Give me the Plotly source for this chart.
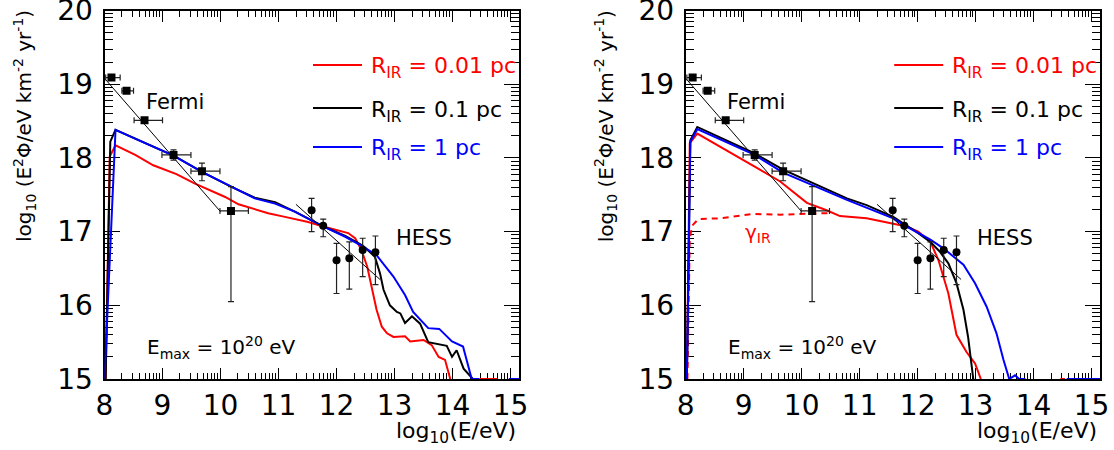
import numpy as np
import plotly.graph_objects as go

W, H = 1114, 450

# ---------------- data ----------------
fermi_x = [8.12, 8.38, 8.69, 9.19, 9.68, 10.18]
fermi_y = [19.09, 18.91, 18.51, 18.04, 17.82, 17.28]
fermi_xlo = [8.02, 8.30, 8.51, 8.99, 9.49, 9.99]
fermi_xhi = [8.27, 8.50, 9.00, 9.49, 9.99, 10.48]
fermi_ylo = [19.09, 18.91, 18.51, 17.97, 17.69, 16.05]
fermi_yhi = [19.09, 18.91, 18.51, 18.11, 17.93, 17.61]

hess_x = [11.57, 11.77, 12.00, 12.22, 12.45, 12.67]
hess_y = [17.29, 17.08, 16.61, 16.64, 16.75, 16.72]
hess_ylo = [17.00, 16.93, 16.16, 16.22, 16.39, 16.28]
hess_yhi = [17.45, 17.17, 16.84, 16.86, 16.91, 16.94]

fermi_fit_x = [8.0, 10.0]
fermi_fit_y = [19.08, 17.27]
hess_fit_x = [11.3, 12.75]
hess_fit_y = [17.37, 16.35]

# left panel curves
L_red_x = [8.02, 8.09, 8.19, 8.53, 8.84, 9.07, 9.24, 9.56, 9.82, 10.08, 10.31, 10.48, 10.82, 11.11,
           11.51, 11.77, 12.0, 12.2, 12.32, 12.43, 12.53, 12.61, 12.69, 12.78, 12.87, 12.98, 13.18,
           13.27, 13.5, 13.64, 13.76, 13.87, 13.96, None, 14.46, 14.77]
L_red_y = [15.0, 18.02, 18.17, 18.04, 17.9, 17.83, 17.78, 17.65, 17.56, 17.47, 17.37, 17.33, 17.25, 17.2,
           17.13, 17.07, 17.02, 16.98, 16.91, 16.75, 16.52, 16.25, 15.94, 15.71, 15.62, 15.57, 15.58,
           15.51, 15.53, 15.46, 15.3, 15.26, 15.0, None, 15.0, 15.0]
L_blk_x = [8.02, 8.1, 8.19, 8.7, 9.19, 9.68, 10.18, 10.59, 10.94, 11.28, 11.77, 12.15, 12.45, 12.55,
           12.66, 12.75, 12.81, 12.92, 13.04, 13.1, 13.18, 13.3, 13.44, 13.58, 13.73, 13.9, 13.99,
           14.07, 14.19, 14.35]
L_blk_y = [15.0, 18.22, 18.38, 18.2, 18.03, 17.81, 17.61, 17.46, 17.40, 17.27, 17.07, 16.94, 16.81, 16.74,
           16.66, 16.43, 16.21, 16.0, 15.91, 15.89, 15.76, 15.85, 15.75, 15.5, 15.48, 15.45, 15.3,
           15.39, 15.14, 15.0]
L_blu_x = [8.0, 8.19, 8.7, 9.19, 9.68, 10.18, 10.59, 10.94, 11.28, 11.77, 12.15, 12.45, 12.6, 12.69,
           12.98, 13.18, 13.32, 13.58, 13.77, 13.99, 14.18, 14.33, 14.46, None, 14.97, 15.15]
L_blu_y = [15.0, 18.38, 18.2, 18.03, 17.81, 17.61, 17.45, 17.38, 17.27, 17.07, 16.93, 16.8, 16.73, 16.68,
           16.39, 16.14, 15.91, 15.69, 15.68, 15.51, 15.44, 15.0, 15.0, None, 15.0, 15.0]

# right panel curves
R_red_x = [8.02, 8.07, 8.2, 8.48, 8.88, 9.28, 9.63, 9.86, 10.09, 10.43, 10.66, 11.12, 11.58, 11.81,
           12.01, 12.22, 12.36, 12.53, 12.67, 12.84, 12.99, 13.09, None, 14.46, 14.54]
R_red_y = [15.0, 18.2, 18.33, 18.2, 18.02, 17.84, 17.68, 17.54, 17.39, 17.29, 17.21, 17.18, 17.11, 17.07,
           17.0, 16.86, 16.61, 16.16, 15.6, 15.37, 15.21, 15.0, None, 15.0, 15.0]
R_blk_x = [8.02, 8.08, 8.2, 9.19, 9.68, 10.26, 10.78, 11.12, 11.58, 11.81, 12.01, 12.22, 12.38, 12.53,
           12.67, 12.79, 12.87, 12.96]
R_blk_y = [15.0, 18.24, 18.42, 18.06, 17.84, 17.63, 17.45, 17.36, 17.2, 17.08, 16.98, 16.86, 16.73, 16.57,
           16.3, 15.94, 15.57, 15.0]
R_blu_x = [8.02, 8.08, 8.2, 9.19, 9.68, 10.26, 10.78, 11.58, 11.78, 12.22, 12.45, 12.79, 12.99, 13.19,
           13.36, 13.48, 13.58, 13.68, 13.75, 13.86, None, 14.57, 15.15]
R_blu_y = [15.0, 18.22, 18.39, 18.04, 17.8, 17.61, 17.43, 17.18, 17.08, 16.89, 16.77, 16.55, 16.3, 15.98,
           15.62, 15.26, 15.0, 15.05, 15.0, 15.0, None, 15.0, 15.0]
R_gam_x = [8.03, 8.05, 8.07, 8.11, 8.22, 8.59, 9.17, 9.63, 10.09, 10.45]
R_gam_y = [15.0, 16.0, 16.9, 17.08, 17.17, 17.18, 17.24, 17.23, 17.24, 17.25]

legend_labels = ["R<sub>IR</sub> = 0.01 pc", "R<sub>IR</sub> = 0.1 pc", "R<sub>IR</sub> = 1 pc"]
legend_colors = ["#ff0000", "#000000", "#0000ff"]

x_range = [8, 15.145]
y_range = [15, 20]
x_major = list(range(8, 16))
y_major = list(range(15, 21))
x_minor = [n + np.log10(k) for n in range(8, 16) for k in range(2, 10) if n + np.log10(k) < 15.14]
y_minor = [n + np.log10(k) for n in range(15, 20) for k in range(2, 10)]

FONT = "DejaVu Sans"

def px(p):
    return p / W

def py(p):
    return 1 - p / H

fig = go.Figure()

panels = [
    ("x", "y", (L_red_x, L_red_y), (L_blk_x, L_blk_y), (L_blu_x, L_blu_y), None),
    ("x2", "y2", (R_red_x, R_red_y), (R_blk_x, R_blk_y), (R_blu_x, R_blu_y), (R_gam_x, R_gam_y)),
]

for xa, ya, red, blk, blu, gam in panels:
    if gam is not None:
        fig.add_trace(go.Scatter(x=gam[0], y=gam[1], mode="lines", xaxis=xa, yaxis=ya,
                                 line=dict(color="#ff0000", width=2, dash="6px,5px"), showlegend=False))
    for (cx, cy), col in zip([red, blk, blu], legend_colors):
        fig.add_trace(go.Scatter(x=cx, y=cy, mode="lines", xaxis=xa, yaxis=ya, connectgaps=False,
                                 line=dict(color=col, width=2), showlegend=False))
    fig.add_trace(go.Scatter(x=fermi_fit_x, y=fermi_fit_y, mode="lines", xaxis=xa, yaxis=ya,
                             line=dict(color="black", width=1), showlegend=False))
    fig.add_trace(go.Scatter(x=hess_fit_x, y=hess_fit_y, mode="lines", xaxis=xa, yaxis=ya,
                             line=dict(color="black", width=1), showlegend=False))
    fig.add_trace(go.Scatter(
        x=fermi_x, y=fermi_y, mode="markers", xaxis=xa, yaxis=ya, showlegend=False,
        marker=dict(symbol="square", size=8, color="black"),
        error_x=dict(type="data", symmetric=False,
                     array=[h - x for h, x in zip(fermi_xhi, fermi_x)],
                     arrayminus=[x - l for l, x in zip(fermi_xlo, fermi_x)],
                     color="#222222", thickness=1.2, width=3),
        error_y=dict(type="data", symmetric=False,
                     array=[h - y for h, y in zip(fermi_yhi, fermi_y)],
                     arrayminus=[y - l for l, y in zip(fermi_ylo, fermi_y)],
                     color="#222222", thickness=1.2, width=3)))
    fig.add_trace(go.Scatter(
        x=hess_x, y=hess_y, mode="markers", xaxis=xa, yaxis=ya, showlegend=False,
        marker=dict(symbol="circle", size=8, color="black"),
        error_y=dict(type="data", symmetric=False,
                     array=[h - y for h, y in zip(hess_yhi, hess_y)],
                     arrayminus=[y - l for l, y in zip(hess_ylo, hess_y)],
                     color="#222222", thickness=1.2, width=3)))

xdoms = [[104.5 / W, 519 / W], [685.7 / W, 1100 / W]]
ydom = [1 - 379 / H, 1 - 10.5 / H]

axis_common = dict(showgrid=False, zeroline=False, showline=True, linecolor="black", linewidth=2,
                   mirror="allticks", ticks="inside", tickcolor="black", layer="below traces",
                   automargin=False, ticklabeloverflow="allow",
                   tickfont=dict(family=FONT, size=28, color="black"))

for i, suf in enumerate(["", "2"]):
    fig.layout["xaxis" + suf] = dict(
        axis_common, domain=xdoms[i], range=x_range, anchor="y" + suf,
        tickmode="array", tickvals=x_major, ticktext=[str(v) for v in x_major],
        ticklen=11, tickwidth=1, ticklabelstandoff=0,
        minor=dict(tickmode="array", tickvals=x_minor, ticks="inside", ticklen=6, tickwidth=1,
                   tickcolor="black", showgrid=False))
    fig.layout["yaxis" + suf] = dict(
        axis_common, domain=ydom, range=y_range, anchor="x" + suf,
        tickmode="array", tickvals=y_major, ticktext=[str(v) for v in y_major],
        ticklen=15, tickwidth=1, ticklabelstandoff=4,
        minor=dict(tickmode="array", tickvals=y_minor, ticks="inside", ticklen=8, tickwidth=1,
                   tickcolor="black", showgrid=False))

annotations = []
shapes = []
offsets = [0, 581.2]
for i, off in enumerate(offsets):
    # legend
    for j, (lab, col) in enumerate(zip(legend_labels, legend_colors)):
        ly = [65, 108, 147][j]
        shapes.append(dict(type="line", xref="paper", yref="paper",
                           x0=px(313 + off), x1=px(362 + off), y0=py(ly), y1=py(ly),
                           line=dict(color=col, width=2)))
        annotations.append(dict(xref="paper", yref="paper", x=px(369 + off), y=py(ly + 3),
                                xanchor="left", yanchor="middle", showarrow=False, text=lab,
                                font=dict(family=FONT, size=22, color=col)))
    annotations.append(dict(xref="paper", yref="paper", x=px(144 + off), y=py(102.5),
                            xanchor="left", yanchor="middle", showarrow=False, text="Fermi",
                            font=dict(family=FONT, size=21, color="black")))
    annotations.append(dict(xref="paper", yref="paper", x=px(394 + off), y=py(238),
                            xanchor="left", yanchor="middle", showarrow=False, text="HESS",
                            font=dict(family=FONT, size=21, color="black")))
    annotations.append(dict(xref="paper", yref="paper", x=px(145 + off), y=py(347),
                            xanchor="left", yanchor="middle", showarrow=False,
                            text="E<sub>max</sub> = 10<sup>20</sup> eV",
                            font=dict(family=FONT, size=20, color="black")))
    annotations.append(dict(xref="paper", yref="paper", x=px(518 + off), y=py(432),
                            xanchor="right", yanchor="middle", showarrow=False,
                            text="log<sub>10</sub>(E/eV)",
                            font=dict(family=FONT, size=22, color="black")))
    annotations.append(dict(xref="paper", yref="paper", x=px(24 + off), y=py(8),
                            xanchor="center", yanchor="top", showarrow=False, textangle=-90,
                            text="log<sub>10</sub> (E<sup>2</sup>Φ/eV km<sup>-2</sup> yr<sup>-1</sup>)",
                            font=dict(family=FONT, size=20, color="black")))

annotations.append(dict(xref="paper", yref="paper", x=px(743), y=py(233),
                        xanchor="left", yanchor="middle", showarrow=False,
                        text="γ<sub>IR</sub>", font=dict(family=FONT, size=20, color="#ff0000")))

fig.update_layout(width=W, height=H, margin=dict(l=0, r=0, t=0, b=0),
                  paper_bgcolor="white", plot_bgcolor="white",
                  annotations=annotations, shapes=shapes, showlegend=False)

fig.write_html("out.html")
